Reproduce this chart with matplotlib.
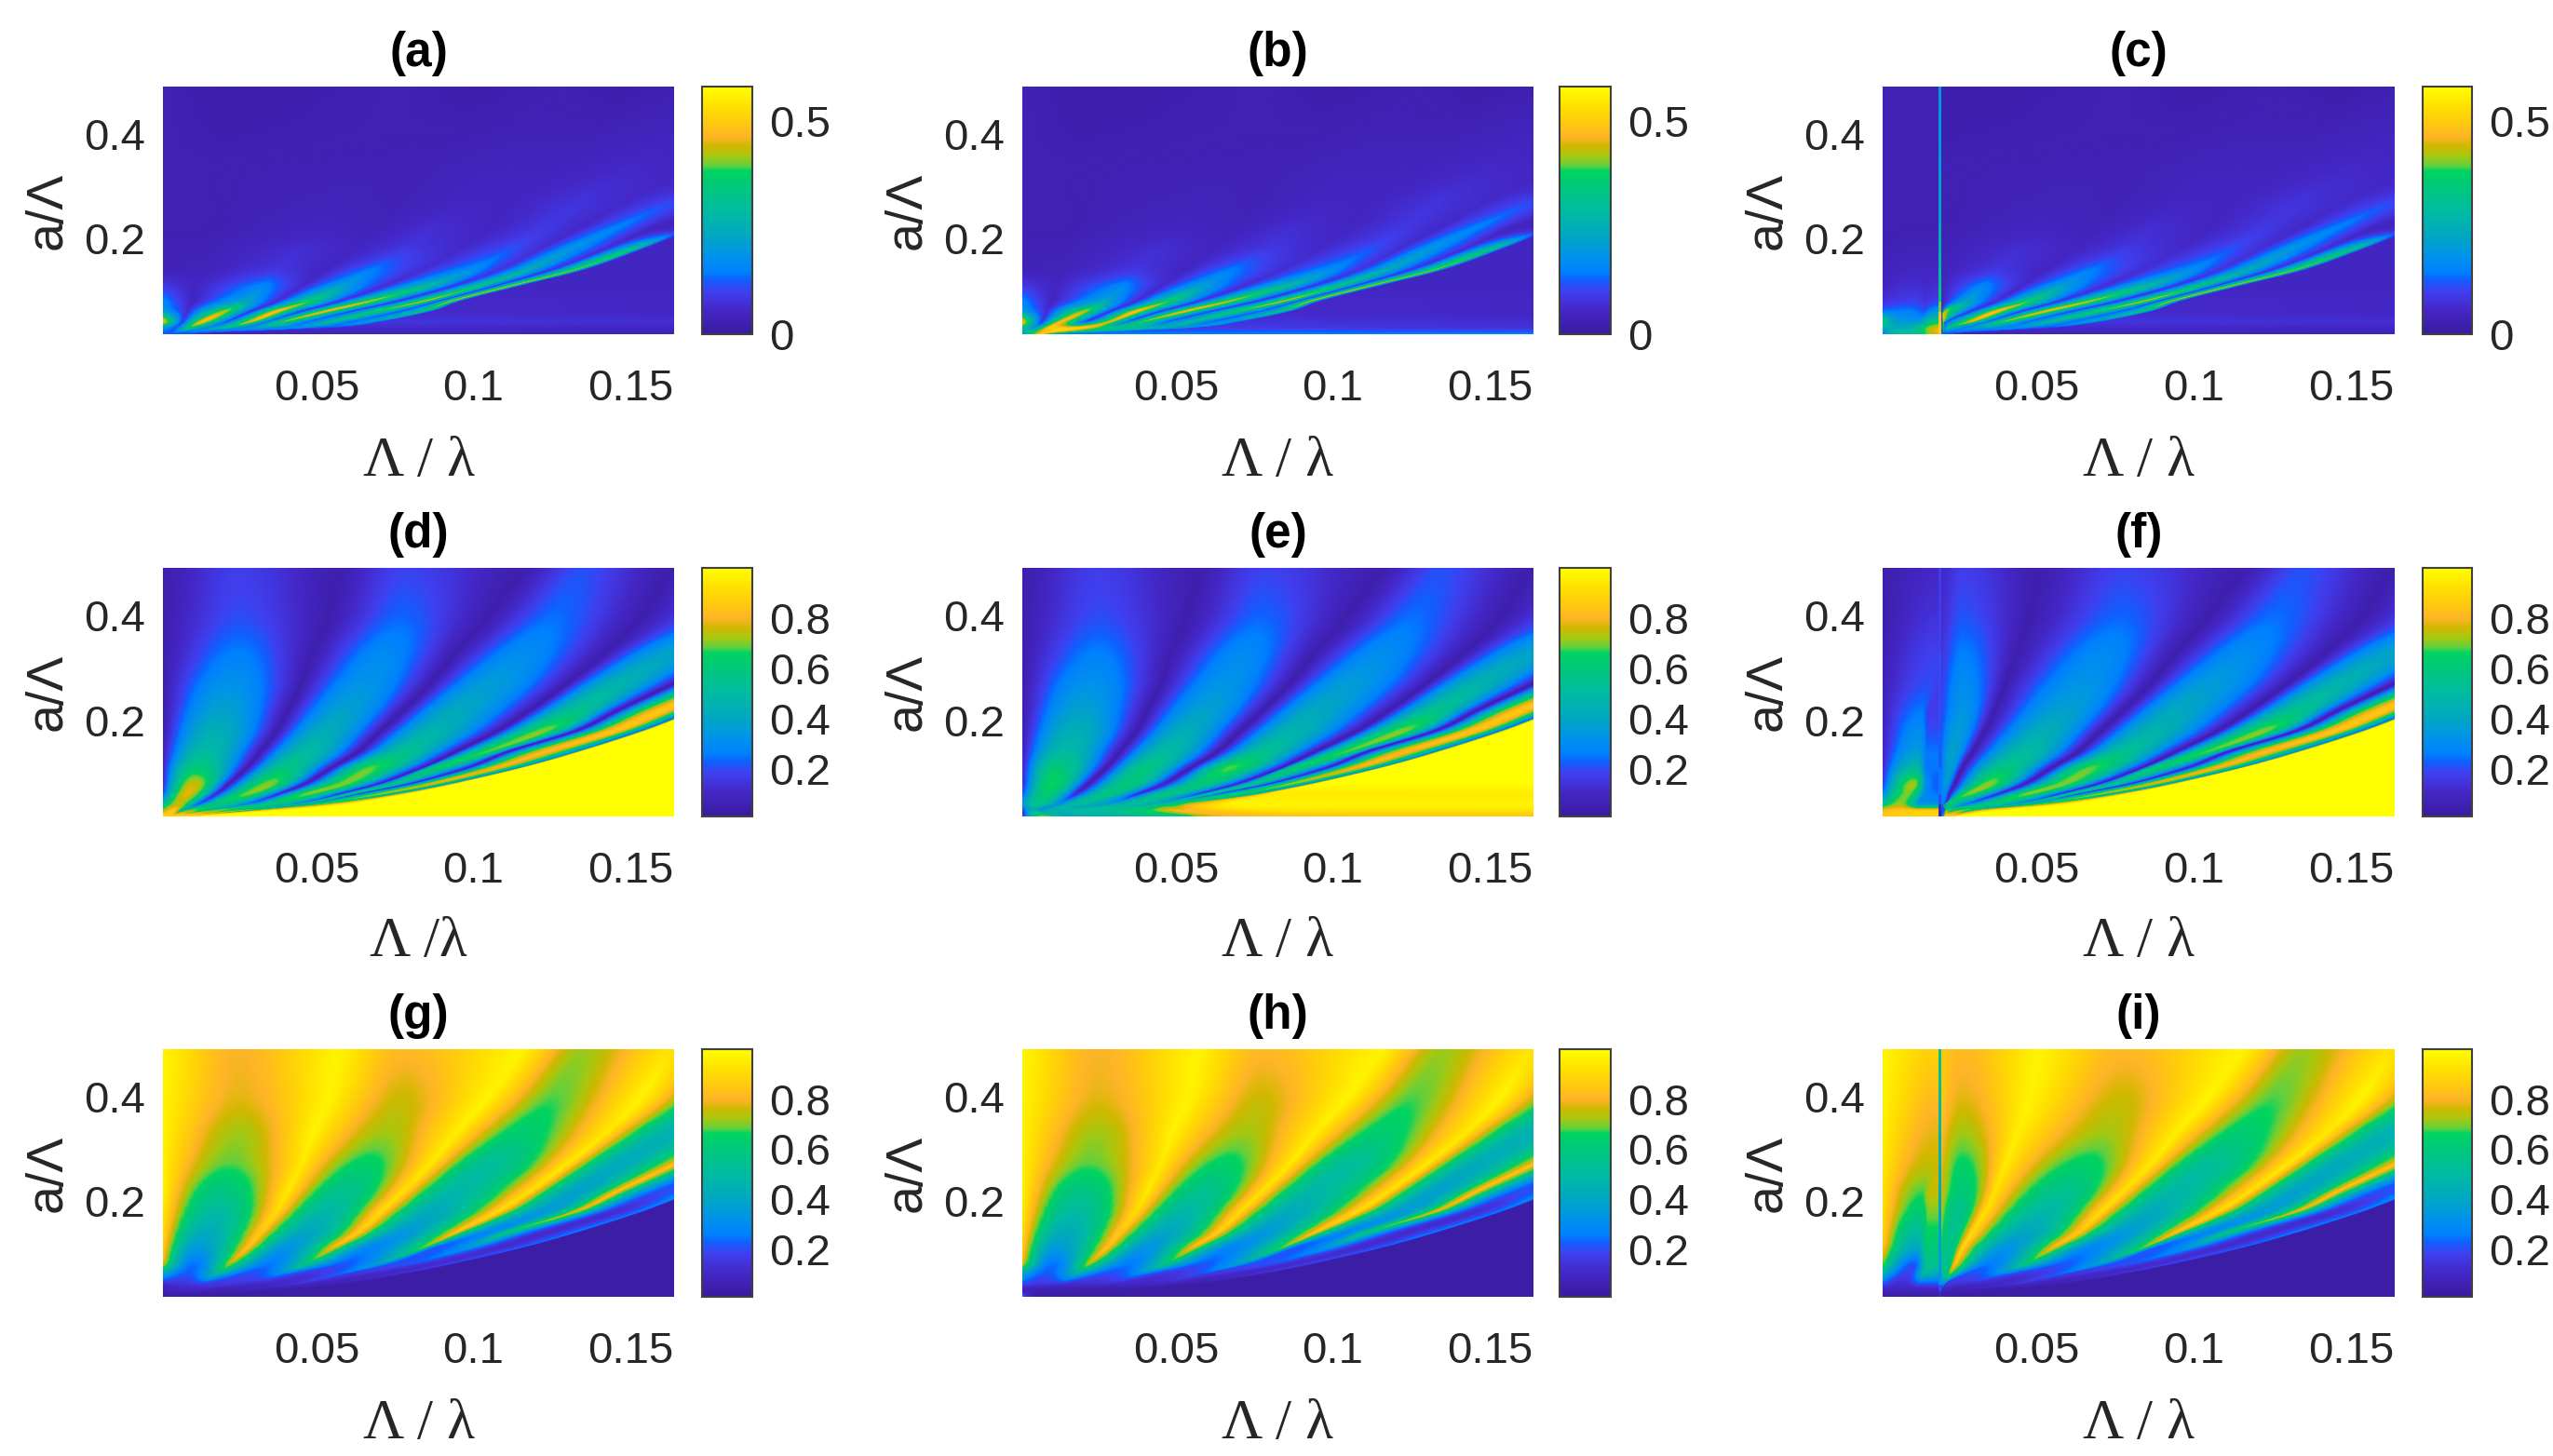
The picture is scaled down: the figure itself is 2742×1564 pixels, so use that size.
import numpy as np
import matplotlib
matplotlib.use("Agg")
import matplotlib.pyplot as plt
from matplotlib.colors import LinearSegmentedColormap, Normalize
from matplotlib.cm import ScalarMappable

# ---- cross-section levels of a/Lambda at which the panels were read
LEVELS = [.495, .40, .33, .27, .22, .18, .14, .11, .08, .06, .04, .028, .017]

# ---- Lambda/lambda of each band node at each level (panels d-i)
# nodes: edge, lobe A, trough, lobe B, trough, lobe C, trough, lobe D, trough, lobe E, trough, boundary, far
BAND_X = [
    [.001, .0249, .0572, .0780, .1164, .1352, .1632, .1986, .2506, .2610, .2714, .2766, .48],
    [.001, .0254, .0540, .0769, .1050, .1258, .1539, .1830, .2090, .2246, .2402, .2433, .48],
    [.001, .0249, .0488, .0717, .0946, .1154, .1424, .1632, .1851, .2048, .2142, .2173, .48],
    [.001, .0223, .0452, .0655, .0863, .1050, .1300, .1466, .1643, .1830, .1965, .1986, .48],
    [.001, .0197, .0410, .0592, .0780, .0946, .1185, .1341, .1466, .1612, .1716, .1736, .48],
    [.001, .0176, .0374, .0530, .0707, .0873, .1081, .1227, .1331, .1456, .1539, .1560, .48],
    [.001, .0145, .0322, .0468, .0634, .0780, .0946, .1050, .1112, .1237, .1331, .1352, .48],
    [.001, .0119, .0280, .0405, .0551, .0676, .0842, .0884, .0988, .1081, .1154, .1175, .48],
    [.001, .0109, .0223, .0353, .0468, .0592, .0707, .0759, .0811, .0884, .0936, .0967, .48],
    [.001, .0088, .0182, .0286, .0384, .0478, .0582, .0624, .0644, .0717, .0759, .0811, .48],
    [.001, .0062, .0124, .0187, .0280, .0364, .0436, .0468, .0478, .0509, .0540, .0624, .48],
    [.001, .0046, .0072, .0104, .0145, .0197, .0239, .0270, .0301, .0322, .0343, .0416, .48],
    [.001, .0031, .0041, .0052, .0062, .0072, .0083, .0093, .0104, .0114, .0124, .0145, .48],
]
# ---- panel (d) values
D_VAL = [
    [.05, .17, .05, .18, .05, .20, .05, .30, .05, .80, .20, 1, 1],
    [.05, .20, .05, .23, .05, .24, .05, .27, .05, .80, .20, 1, 1],
    [.05, .26, .05, .29, .05, .30, .05, .38, .05, .80, .20, 1, 1],
    [.05, .32, .05, .33, .05, .36, .05, .46, .05, .85, .20, 1, 1],
    [.05, .38, .05, .38, .05, .41, .05, .55, .05, .85, .20, 1, 1],
    [.06, .44, .05, .43, .05, .46, .05, .70, .05, .85, .20, 1, 1],
    [.08, .50, .05, .50, .05, .54, .05, .68, .05, .82, .25, 1, 1],
    [.10, .60, .05, .58, .05, .68, .05, .62, .08, .80, .30, 1, 1],
    [.12, .75, .06, .70, .06, .70, .07, .55, .10, .78, .35, 1, 1],
    [.20, .78, .10, .70, .10, .70, .12, .58, .15, .72, .45, 1, 1],
    [.50, .75, .20, .60, .25, .60, .30, .60, .35, .65, .70, 1, 1],
    [.70, .85, .50, .70, .55, .70, .55, .70, .50, .72, .85, 1, 1],
    [.90, .90, .90, .90, .90, .90, .90, .90, .90, .90, .92, 1, 1],
]
# ---- panel (g) values
G_VAL = [
    [.97, .80, .97, .82, .97, .72, .93, .60, .85, .30, .10, .03, .03],
    [.97, .78, .97, .76, .97, .68, .97, .48, .85, .30, .10, .03, .03],
    [.97, .72, .97, .72, .96, .62, .95, .45, .85, .20, .30, .03, .03],
    [.97, .68, .95, .64, .95, .52, .95, .42, .85, .20, .32, .03, .03],
    [.97, .58, .95, .55, .93, .48, .93, .38, .85, .20, .32, .03, .03],
    [.95, .50, .92, .48, .92, .42, .92, .35, .80, .13, .28, .03, .03],
    [.92, .42, .88, .40, .88, .35, .85, .28, .62, .12, .28, .03, .03],
    [.88, .35, .85, .33, .82, .28, .70, .22, .35, .12, .25, .03, .03],
    [.78, .25, .75, .26, .60, .22, .40, .20, .22, .12, .20, .03, .03],
    [.40, .22, .50, .20, .30, .15, .25, .15, .15, .10, .15, .03, .03],
    [.12, .14, .17, .15, .12, .10, .15, .10, .10, .07, .08, .03, .03],
    [.06, .08, .10, .10, .08, .06, .07, .06, .05, .05, .05, .03, .03],
    [.04, .04, .04, .04, .04, .04, .04, .04, .04, .03, .03, .03, .03],
]
# ---- panel (a) node positions and values
# nodes: edge, trough, ridge, trough, ridge, trough, ridge, trough, ridge, trough, thin ridge, shoulder, far
A_X = [
    [.001, .0218, .0800, .1029, .1258, .1492, .1726, .2090, .2506, .2714, .2922, .2953, .48],
    [.001, .0197, .0717, .0936, .1154, .1388, .1622, .1882, .2142, .2298, .2506, .2537, .48],
    [.001, .0176, .0634, .0842, .1050, .1268, .1487, .1684, .1882, .2038, .2194, .2225, .48],
    [.001, .0166, .0561, .0754, .0946, .1138, .1331, .1487, .1638, .1788, .1934, .1965, .48],
    [.001, .0156, .0499, .0681, .0863, .1045, .1227, .1341, .1456, .1575, .1695, .1726, .48],
    [.001, .0145, .0447, .0618, .0790, .0956, .1123, .1216, .1310, .1424, .1518, .1549, .48],
    [.001, .0135, .0374, .0525, .0676, .0837, .0998, .1086, .1175, .1253, .1331, .1362, .48],
    [.001, .0114, .0332, .0457, .0582, .0722, .0863, .0946, .1029, .1081, .1133, .1164, .48],
    [.001, .0104, .0275, .0374, .0478, .0577, .0676, .0764, .0852, .0894, .0936, .0967, .48],
    [.001, .0088, .0208, .0291, .0374, .0452, .0530, .0613, .0696, .0769, .0842, .0873, .48],
    [.001, .0072, .0135, .0213, .0291, .0343, .0395, .0473, .0551, .0613, .0676, .0717, .48],
    [.001, .0052, .0093, .0150, .0208, .0265, .0322, .0390, .0457, .0494, .0530, .0572, .48],
    [.001, .0031, .0052, .0062, .0072, .0083, .0093, .0104, .0114, .0124, .0135, .0166, .48],
]
A_VAL = [
    [.03, .02, .03, .02, .03, .02, .03, .03, .03, .02, .03, .03, .03],
    [.03, .025, .03, .03, .035, .035, .045, .04, .05, .04, .05, .03, .03],
    [.03, .03, .035, .035, .045, .045, .06, .05, .06, .05, .05, .03, .03],
    [.03, .03, .04, .035, .05, .05, .08, .06, .11, .05, .05, .03, .03],
    [.03, .03, .05, .04, .07, .05, .09, .06, .16, .05, .06, .04, .03],
    [.035, .035, .07, .05, .09, .06, .12, .07, .20, .07, .34, .05, .03],
    [.04, .04, .09, .05, .15, .07, .18, .08, .26, .08, .42, .05, .03],
    [.09, .05, .16, .06, .22, .07, .30, .08, .35, .09, .45, .05, .03],
    [.16, .05, .24, .07, .38, .08, .44, .08, .45, .10, .45, .06, .03],
    [.22, .07, .44, .08, .50, .09, .48, .10, .38, .12, .34, .06, .03],
    [.48, .09, .50, .11, .47, .13, .40, .13, .30, .13, .22, .08, .03],
    [.20, .12, .35, .16, .30, .16, .22, .16, .18, .13, .12, .06, .03],
    [.12, .12, .12, .12, .12, .12, .12, .10, .10, .08, .06, .04, .03],
]

# ---- middle column: lowest levels read separately (level index -> row)
B_LOW_VAL = {
    11: [.30, .20, .50, .50, .50, .35, .32, .28, .25, .20, .20, .10, .03],
    12: [.20, .35, .40, .50, .50, .45, .40, .35, .30, .25, .20, .15, .15],
}
E_LOW_X = {
    10: [.001, .0062, .0124, .0187, .0280, .0364, .0436, .0468, .0478, .0509, .0540, .0700, .48],
    11: [.001, .0046, .0072, .0104, .0145, .0197, .0300, .0380, .0450, .0500, .0600, .0800, .48],
    12: [.001, .0075, .0120, .0160, .0200, .0300, .0400, .0500, .0600, .0700, .0900, .1200, .48],
}
E_LOW_VAL = {
    8: [.12, .66, .05, .60, .07, .60, .08, .55, .12, .72, .30, 1, 1],
    9: [.20, .62, .10, .58, .12, .58, .15, .55, .20, .65, .40, .95, 1],
    10: [.35, .55, .30, .50, .35, .50, .42, .50, .55, .62, .75, .97, 1],
    11: [.15, .45, .35, .45, .45, .50, .55, .62, .72, .80, .85, .93, 1],
    12: [.10, .70, .60, .40, .45, .45, .50, .60, .75, .82, .85, .85, .85],
}
H_LOW_VAL = {
    9: [.40, .22, .45, .20, .30, .15, .22, .15, .15, .10, .15, .03, .03],
    10: [.20, .15, .15, .12, .12, .10, .10, .10, .08, .06, .05, .03, .03],
    11: [.08, .06, .05, .05, .05, .05, .04, .04, .04, .04, .04, .03, .03],
    12: [.30, .12, .05, .05, .04, .04, .04, .04, .04, .04, .04, .03, .03],
}

# ---- right column: resonance position and the bands beside it
RES_X = .019
F_LOBE_X = [.0264, .0264, .0264, .0264, .0264, .0249, .0233, .0225, .0215, .0209, .0205, .0203, .0200]
F_TROUGH_X = [.0511, .0479, .0439, .0400, .0368, .0336, .0296, .0264, .0241, .0225, .0215, .0210, .0205]
C_RES_VAL = [.20, .20, .20, .22, .22, .25, .27, .30, .35, .40, .48, .50, .50]
F_RES_VAL = [.15, .17, .18, .20, .20, .20, .22, .22, .25, .25, .20, .08, .05]
I_RES_VAL = [.60, .55, .50, .45, .42, .40, .38, .35, .35, .35, .30, .20, .10]
F_EDGE_VAL = [.10, .12, .14, .16, .18, .20, .22, .22, .25, .28, .30, .15, .10]
F_LOBE_VAL = [.17, .21, .26, .30, .33, .36, .38, .38, .35, .30, .25, .20, .30]
F_TROUGH_VAL = [.05, .05, .05, .05, .05, .05, .05, .05, .05, .07, .15, .30, .50]
I_EDGE_VAL = [.85, .85, .82, .80, .78, .75, .70, .65, .55, .45, .25, .10, .04]
I_LOBE_VAL = [.82, .78, .72, .65, .60, .55, .55, .55, .55, .55, .30, .08, .04]
I_TROUGH_VAL = [.97, .97, .96, .95, .93, .93, .92, .90, .85, .70, .20, .08, .04]

# left of the resonance: edge, ridge, shoulder, resonance side
LEFT_X = [
    [.001, .0185, .0187, .019], [.001, .0185, .0187, .019], [.001, .0177, .0187, .019],
    [.001, .0153, .0187, .019], [.001, .0137, .0160, .019], [.001, .0129, .0155, .019],
    [.001, .0121, .0150, .019], [.001, .0117, .0148, .019], [.001, .0110, .0148, .019],
    [.001, .0090, .0143, .019], [.001, .0066, .0125, .019], [.001, .0066, .0120, .019],
    [.001, .0066, .0120, .019],
]
C_LEFT_VAL = [
    [.03, .03, .03, .03], [.03, .03, .03, .03], [.03, .03, .03, .03], [.03, .03, .03, .03],
    [.03, .03, .03, .03], [.03, .04, .04, .04], [.04, .05, .05, .05], [.05, .07, .06, .07],
    [.08, .10, .08, .10], [.15, .15, .12, .20], [.35, .20, .20, .35], [.25, .25, .30, .45],
    [.15, .30, .30, .45],
]
F_LEFT_VAL = [
    [.05, .10, .10, .10], [.05, .14, .14, .14], [.06, .18, .18, .18], [.07, .20, .18, .17],
    [.08, .25, .17, .17], [.09, .30, .20, .20], [.10, .36, .25, .25], [.12, .50, .25, .25],
    [.16, .72, .30, .22], [.28, .70, .30, .25], [.55, .72, .35, .35], [.80, .85, .85, .85],
    [.85, .88, .88, .88],
]
I_LEFT_VAL = [
    [.97, .88, .88, .88], [.97, .82, .82, .82], [.96, .78, .78, .78], [.95, .75, .76, .77],
    [.93, .68, .75, .75], [.92, .62, .70, .70], [.90, .50, .65, .65], [.85, .40, .60, .60],
    [.70, .22, .55, .55], [.45, .18, .50, .40], [.20, .12, .20, .20], [.08, .08, .08, .08],
    [.04, .04, .04, .04],
]

# ---- texts and scales
PANEL_TITLES = ["(a)", "(b)", "(c)", "(d)", "(e)", "(f)", "(g)", "(h)", "(i)"]
X_TICKS = [0.05, 0.1, 0.15]
X_TICK_LABELS = ["0.05", "0.1", "0.15"]
Y_TICKS = [0.2, 0.4]
Y_TICK_LABELS = ["0.2", "0.4"]
ROW_RANGE = [(0.0, 0.58), (0.01, 1.0), (0.01, 1.0)]
CB_TICKS = [[0, 0.5], [0.2, 0.4, 0.6, 0.8], [0.2, 0.4, 0.6, 0.8]]
CB_LABELS = [["0", "0.5"], ["0.2", "0.4", "0.6", "0.8"], ["0.2", "0.4", "0.6", "0.8"]]
XLABELS = ["\u039b / \u03bb"] * 3 + ["\u039b /\u03bb", "\u039b / \u03bb", "\u039b / \u03bb"] + ["\u039b / \u03bb"] * 3
YLABEL = "a/\u039b"

# colormap
CMAP_STOPS = [
    (0.00, "#3a1a9e"), (0.10, "#4428c8"), (0.175, "#3f40f0"), (0.22, "#1060ff"),
    (0.25, "#0080ff"), (0.32, "#0094e8"), (0.40, "#00a8c0"), (0.50, "#00bca0"),
    (0.60, "#00c878"), (0.66, "#00d460"), (0.68, "#60d040"), (0.72, "#a8c810"),
    (0.76, "#d0b800"), (0.80, "#ffb428"), (0.85, "#ffc810"), (0.92, "#ffe000"), (1.00, "#ffff00"),
]
CMAP = LinearSegmentedColormap.from_list("reference", CMAP_STOPS, N=512)

plt.rcParams["font.family"] = ["Liberation Sans", "DejaVu Sans"]
W, H = 2742, 1564
fig = plt.figure(figsize=(W / 100, H / 100), dpi=100, facecolor="white")

COL_PX = [(175, 724), (1098, 1647), (2022, 2572)]
CB_PX = [(754, 808), (1675, 1730), (2602, 2655)]
ROW_PX = [(93, 359), (610, 877), (1127, 1393)]
XLABEL_Y = [496, 1012, 1530]
XLIM = (0.001, 0.164)
YLIM = (0.017, 0.49)
FS = 34


def box(x, y):
    return [x[0] / W, 1 - y[1] / H, (x[1] - x[0]) / W, (y[1] - y[0]) / H]


def smooth(X, Y, C, k=18, m=18, peaked=False):
    """Round the drawn mesh between the read cross-sections and nodes."""
    def along(A):
        A = np.asarray(A, float)
        P = np.vstack([2 * A[0] - A[1], A, 2 * A[-1] - A[-2]])
        out = []
        for i in range(1, len(P) - 2):
            for t in np.arange(k) / k:
                out.append(0.5 * (2 * P[i] + (P[i + 1] - P[i - 1]) * t
                                  + (2 * P[i - 1] - 5 * P[i] + 4 * P[i + 1] - P[i + 2]) * t ** 2
                                  + (3 * P[i] - P[i - 1] - 3 * P[i + 1] + P[i + 2]) * t ** 3))
        out.append(A[-1])
        return np.array(out)
    X2, Y2, C2 = along(X), along(Y), along(C)
    t = np.arange(m) / m
    n = X2.shape[0]
    # bands are broad with sharp troughs; panels (a)-(c) have peaked ridges on broad shoulders
    f = np.minimum(1.0, .35 + 2.5 * np.arange(n) / (n - 1))[:, None]
    s = 3 * t ** 2 - 2 * t ** 3
    rise = f * np.sin(np.pi * t / 2) + (1 - f) * s
    fall = f * (1 - np.cos(np.pi * t / 2)) + (1 - f) * s
    if peaked:
        rise = fall = t[None, :] * np.ones((n, 1))
    def across(A, weight):
        res = []
        for j in range(A.shape[1] - 1):
            w = weight(j)
            res.append(A[:, j, None] * (1 - w) + A[:, j + 1, None] * w)
        return np.hstack(res + [A[:, -1:]])
    return (across(X2, lambda j: t), across(Y2, lambda j: t),
            across(C2, lambda j: rise if j % 2 == 0 else fall))


def replace_rows(A, rows):
    A = np.array(A, float)
    for i, r in rows.items():
        A[i] = r
    return A


def panel_tables(r, c):
    if r == 0:
        X, V = np.array(A_X, float), np.array(A_VAL, float)
        if c == 1:
            V = replace_rows(V, B_LOW_VAL)
    else:
        X = np.array(BAND_X, float)
        V = np.array(D_VAL if r == 1 else G_VAL, float)
        if c == 1 and r == 1:
            X = replace_rows(X, E_LOW_X)
            V = replace_rows(V, E_LOW_VAL)
        if c == 1 and r == 2:
            V = replace_rows(V, H_LOW_VAL)
        if c == 2:
            X[:, 1], X[:, 2] = F_LOBE_X, F_TROUGH_X
            a, b, d = (F_EDGE_VAL, F_LOBE_VAL, F_TROUGH_VAL) if r == 1 else (I_EDGE_VAL, I_LOBE_VAL, I_TROUGH_VAL)
            V[:, 0], V[:, 1], V[:, 2] = a, b, d
    if c == 2:
        X = np.maximum(X, RES_X + 0.0005 + 0.0005 * np.arange(13))
    return X, V


for r in range(3):
    vmin, vmax = ROW_RANGE[r]
    norm = Normalize(vmin, vmax)
    for c in range(3):
        ax = fig.add_axes(box(COL_PX[c], ROW_PX[r]))
        X, V = panel_tables(r, c)
        Y = np.repeat(np.array(LEVELS)[:, None], X.shape[1], axis=1)
        Xs, Ys, Vs = smooth(X, Y, V, peaked=(r == 0))
        ax.pcolormesh(Xs, Ys, np.clip(Vs, vmin, vmax), shading="gouraud", cmap=CMAP, norm=norm, rasterized=True)
        if c == 2:
            LV = [C_LEFT_VAL, F_LEFT_VAL, I_LEFT_VAL][r]
            RV = [C_RES_VAL, F_RES_VAL, I_RES_VAL][r]
            LX = np.array(LEFT_X, float)
            LY = np.repeat(np.array(LEVELS)[:, None], 4, axis=1)
            lx, ly, lv = smooth(LX, LY, LV)
            ax.pcolormesh(lx, ly, np.clip(lv, vmin, vmax), shading="gouraud", cmap=CMAP, norm=norm)
            ax.pcolormesh([RES_X - 0.0002, RES_X + 0.0006], LEVELS[::-1],
                          np.array(RV[::-1])[:-1, None], shading="flat", cmap=CMAP, norm=norm)
        ax.set_xlim(*XLIM)
        ax.set_ylim(*YLIM)
        for s in ax.spines.values():
            s.set_visible(False)
        ax.set_xticks(X_TICKS)
        ax.set_xticklabels(X_TICK_LABELS, fontsize=FS, color="#262626")
        ax.set_yticks(Y_TICKS)
        ax.set_yticklabels(Y_TICK_LABELS, fontsize=FS, color="#262626")
        ax.tick_params(axis="x", length=0, pad=27)
        ax.tick_params(axis="y", length=0, pad=14)
        ax.set_title(PANEL_TITLES[3 * r + c], fontsize=37, fontweight="bold", pad=16, color="black")
        px_mid = sum(COL_PX[c]) / 2
        fig.text(px_mid / W, 1 - XLABEL_Y[r] / H, XLABELS[3 * r + c], fontsize=44, family="Liberation Serif",
                 ha="center", va="center", color="#262626")
        fig.text((COL_PX[c][0] - 123) / W, 1 - (sum(ROW_PX[r]) / 2) / H, YLABEL, fontsize=40, rotation=90,
                 ha="center", va="center", color="#262626")

        cax = fig.add_axes(box(CB_PX[c], ROW_PX[r]))
        cb = fig.colorbar(ScalarMappable(norm=norm, cmap=CMAP), cax=cax)
        cb.set_ticks(CB_TICKS[r])
        cb.set_ticklabels(CB_LABELS[r])
        cb.ax.tick_params(length=0, pad=13, labelsize=FS, labelcolor="#262626")
        cb.outline.set_edgecolor("#404040")
        cb.outline.set_linewidth(1.5)

fig.savefig("out.png", dpi=100, facecolor="white")
